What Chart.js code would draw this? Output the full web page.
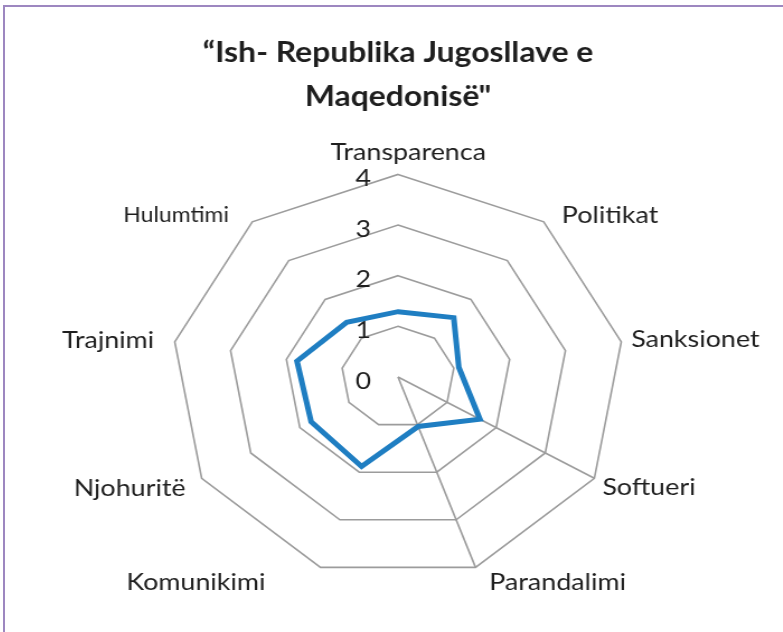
<!DOCTYPE html>
<html>
<head>
<meta charset="utf-8">
<script src="https://cdn.jsdelivr.net/npm/chart.js@4.4.0/dist/chart.umd.min.js"></script>
<style>
html,body{margin:0;padding:0;background:#fff;overflow:hidden;width:783px;height:632px;}
#frame{position:absolute;left:3px;top:5px;width:900px;height:900px;border-left:2px solid #9d87c0;border-top:2px solid #9d87c0;box-sizing:border-box;}
#c{position:absolute;left:-16.4px;top:0;width:828.8px !important;height:632px !important;}
</style>
</head>
<body>
<div id="frame"></div>
<canvas id="c" width="740" height="632" style="width:828.8px;height:632px"></canvas>
<script>
// ---- data ----
const titleLines = ['\u201CIsh- Republika Jugosllave e', 'Maqedonis\u00EB"'];
const categories = ['Transparenca', 'Politikat', 'Sanksionet', 'Softueri', 'Parandalimi',
                    'Komunikimi', 'Njohurit\u00EB', 'Trajnimi', 'Hulumtimi'];
const values = [1.29, 1.53, 1.09, 1.67, 1.04, 1.88, 1.77, 1.81, 1.41];
const tickLabels = ['0', '1', '2', '3', '4'];

// ---- style ----
const BLUE = '#1f7ec2';
const GRID = '#9c9c9c';
const TXT = '#1e1e1e';
const SPOKES = [3, 4];
const LABEL_PAD  = [7.6, 6, 9, 8.3, 0, 0, 16.6, 0, 8];
const LABEL_SIZE = [24, 24, 24, 24, 24, 24, 24, 24, 20.5];
const LABEL_LH   = [1.2, 0.17, 0.1, 0.38, 1.27, 1.27, 0.1, 0.1, 0.05];
const LABEL_LEAD = ['   ', '  ', '', '', '  ', '', '', '', ''];
const LABEL_TRAIL= ['', '', '', '', '', '        ', '', '   ', '   '];

const tickLabelPlugin = {
  id: 'tickLabelsLeft',
  beforeDatasetsDraw(chart) {
    const s = chart.scales.r;
    const ctx = chart.ctx;
    ctx.save();
    ctx.font = '24px Lato';
    ctx.fillStyle = TXT;
    ctx.textAlign = 'center';
    ctx.textBaseline = 'middle';
    s.ticks.forEach(t => {
      const d = s.getDistanceFromCenterForValue(t.value);
      ctx.fillText(t.label, s.xCenter - 31, s.yCenter - d + 4);
    });
    ctx.restore();
  }
};

function build() {
  new Chart(document.getElementById('c'), {
    type: 'radar',
    data: {
      labels: categories,
      datasets: [{
        data: values,
        borderColor: BLUE,
        borderWidth: 5,
        backgroundColor: 'rgba(0,0,0,0)',
        fill: false,
        pointRadius: 0,
        pointHoverRadius: 0,
        tension: 0
      }]
    },
    options: {
      responsive: false,
      devicePixelRatio: 1,
      animation: false,
      layout: { padding: { top: 0, bottom: 25, left: 0, right: 0 } },
      plugins: {
        legend: { display: false },
        tooltip: { enabled: false },
        title: {
          display: true,
          text: titleLines,
          color: TXT,
          font: { family: 'Lato', weight: 'bold', size: 28.5, lineHeight: 44 / 28.5 },
          padding: { top: 31, bottom: 9 }
        }
      },
      scales: {
        r: {
          min: 0,
          max: 4,
          ticks: { stepSize: 1, display: false, callback: (v, i) => tickLabels[i] },
          grid: { color: GRID, lineWidth: 1.6 },
          angleLines: { color: GRID, lineWidth: ctx => SPOKES.includes(ctx.index) ? 1.6 : 0 },
          pointLabels: {
            color: TXT,
            padding: ctx => LABEL_PAD[ctx.index],
            font: ctx => ({ family: 'Lato', size: LABEL_SIZE[ctx.index], lineHeight: LABEL_LH[ctx.index] }),
            callback: (label, i) => LABEL_LEAD[i] + label + LABEL_TRAIL[i]
          }
        }
      }
    },
    plugins: [tickLabelPlugin]
  });
}

Promise.all([
  document.fonts.load('bold 28px Lato'),
  document.fonts.load('24px Lato')
]).then(build, build);
</script>
</body>
</html>
